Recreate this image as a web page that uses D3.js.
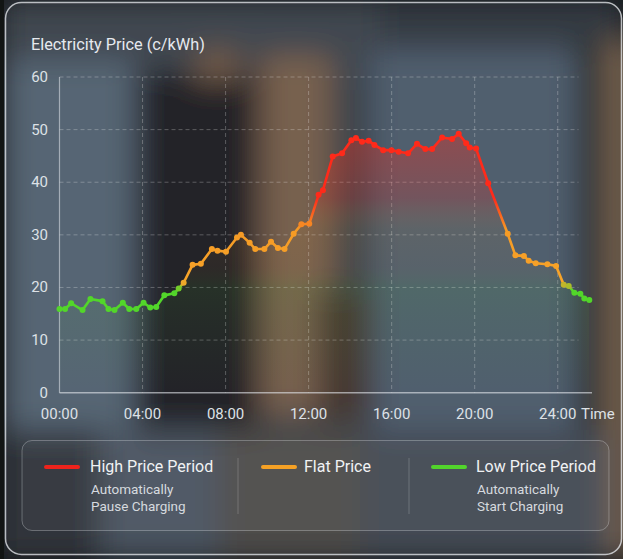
<!DOCTYPE html>
<html>
<head>
<meta charset="utf-8">
<script src="https://cdn.jsdelivr.net/npm/d3@7"></script>
<style>
  html, body { margin: 0; padding: 0; background: #15181b; overflow: hidden; }
  svg { display: block; font-family: Roboto, "Noto Sans", sans-serif; }
</style>
</head>
<body>
<div id="chart"></div>
<script>
// time of each reading (hours since 00:00) and price in c/kWh
const hours = [0, 0.27, 0.56, 1.11, 1.49, 2.07, 2.36, 2.65, 3.05, 3.36,
  3.70, 4.05, 4.37, 4.66, 5.05, 5.53, 5.74, 5.98, 6.41, 6.81,
  7.34, 7.61, 8.02, 8.55, 8.74, 9.16, 9.43, 9.87, 10.19, 10.52,
  10.84, 11.28, 11.65, 12.03, 12.48, 12.69, 13.16, 13.61, 14.06, 14.28,
  14.57, 14.89, 15.17, 15.59, 15.99, 16.34, 16.79, 17.22, 17.62, 17.95,
  18.43, 18.91, 19.23, 19.59, 19.76, 20.07, 20.65, 21.59, 21.96, 22.37,
  22.60, 22.94, 23.50, 23.92, 24.29, 24.53, 24.80, 25.09, 25.28, 25.52];
const prices = [15.9, 15.9, 17.0, 15.7, 17.8, 17.4, 15.9, 15.7, 17.1, 15.9,
  15.9, 17.1, 16.2, 16.3, 18.5, 18.9, 19.8, 20.9, 24.3, 24.5,
  27.3, 27.0, 26.8, 29.5, 30.0, 28.5, 27.3, 27.3, 28.7, 27.5,
  27.3, 30.2, 32.0, 32.1, 37.6, 38.5, 44.9, 45.5, 48.0, 48.4,
  47.7, 47.9, 47.1, 46.1, 46.1, 45.8, 45.5, 47.3, 46.3, 46.3,
  48.5, 48.2, 49.2, 47.4, 46.6, 46.4, 39.8, 30.2, 26.1, 26.0,
  25.1, 24.6, 24.4, 24.1, 20.5, 20.3, 19.0, 18.8, 17.9, 17.6];

const xTicks = [0, 4, 8, 12, 16, 20, 24];
const xTickLabels = ['00:00', '04:00', '08:00', '12:00', '16:00', '20:00', '24:00'];
const yTicks = [0, 10, 20, 30, 40, 50, 60];

const legendNames = ['High Price Period', 'Flat Price', 'Low Price Period'];
const legendNotes = [['Automatically', 'Pause Charging'], [], ['Automatically', 'Start Charging']];
const legendColors = ['#ee231c', '#f5a125', '#52d42c'];

// price bands used to colour the line: green -> orange -> red
const bandValues = [19.5, 21, 31, 37];
const bandColors = ['#52d62a', '#f8a52a', '#f59a25', '#ff2a1a'];

const W = 623, H = 559;

const svg = d3.select('#chart').append('svg')
    .attr('width', W)
    .attr('height', H);

const defs = svg.append('defs');

// blurred backdrop (stand-in for the photo behind the glass card)
const blur = defs.append('filter').attr('id', 'blur')
    .attr('x', '-20%').attr('y', '-20%').attr('width', '140%').attr('height', '140%');
blur.append('feGaussianBlur').attr('stdDeviation', 15);

const backdrop = [
  [0, 0, 623, 559, '#353c44'],
  [5, 0, 618, 80, '#3a424b'],
  [380, 0, 243, 60, '#2f353c'],
  [5, 60, 130, 380, '#51606f'],
  [135, 70, 125, 360, '#1a1d20'],
  [195, 50, 45, 30, '#6e5642'],
  [260, 55, 72, 360, '#735c4a'],
  [318, 290, 55, 130, '#40322b'],
  [372, 50, 205, 380, '#4c5a6a'],
  [577, 40, 28, 400, '#232527'],
  [606, 40, 30, 520, '#76604c'],
  [5, 430, 100, 130, '#2a2f34'],
  [100, 430, 120, 130, '#45505b'],
  [220, 430, 140, 130, '#4a4744'],
  [360, 430, 250, 130, '#3c4550']
];

svg.append('g').attr('filter', 'url(#blur)')
  .selectAll('rect')
  .data(backdrop)
  .join('rect')
    .attr('x', d => d[0]).attr('y', d => d[1])
    .attr('width', d => d[2]).attr('height', d => d[3])
    .attr('fill', d => d[4]);

svg.append('rect')
    .attr('x', 0).attr('y', 0).attr('width', 4).attr('height', H)
    .attr('fill', '#121514');

// glass card
svg.append('rect')
    .attr('x', 5.5).attr('y', 2.5)
    .attr('width', 616).attr('height', 552)
    .attr('rx', 16)
    .attr('fill', 'rgba(255,255,255,0.03)')
    .attr('stroke', 'rgba(235,238,242,0.75)')
    .attr('stroke-width', 1.5);

// scales
const x = d3.scaleLinear().domain([0, 25]).range([59.5, 578.5]);
const y = d3.scaleLinear().domain([0, 60]).range([392.7, 77]);

const grid = svg.append('g').attr('stroke', 'rgba(255,255,255,0.26)')
    .attr('stroke-width', 1).attr('stroke-dasharray', '4,3');

grid.selectAll('.hgrid')
  .data(yTicks.slice(1))
  .join('line')
    .attr('class', 'hgrid')
    .attr('x1', x(0)).attr('x2', x(25))
    .attr('y1', d => y(d)).attr('y2', d => y(d));

grid.selectAll('.vgrid')
  .data(xTicks.slice(1))
  .join('line')
    .attr('class', 'vgrid')
    .attr('x1', d => x(d)).attr('x2', d => x(d))
    .attr('y1', y(60)).attr('y2', y(0));

// axis lines
svg.append('line')
    .attr('x1', x(0)).attr('x2', x(0))
    .attr('y1', y(60)).attr('y2', y(0))
    .attr('stroke', 'rgba(230,233,238,0.55)').attr('stroke-width', 1.2);
svg.append('line')
    .attr('x1', x(0)).attr('x2', x(25.65))
    .attr('y1', y(0)).attr('y2', y(0))
    .attr('stroke', 'rgba(230,233,238,0.6)').attr('stroke-width', 1.5);

// tick labels
svg.append('g')
  .selectAll('text')
  .data(yTicks)
  .join('text')
    .attr('x', 48)
    .attr('y', d => y(d) + 5)
    .attr('text-anchor', 'end')
    .attr('font-size', 15)
    .attr('fill', '#dde1e6')
    .text(d => d);

svg.append('g')
  .selectAll('text')
  .data(xTicks)
  .join('text')
    .attr('x', d => x(d))
    .attr('y', 419)
    .attr('text-anchor', 'middle')
    .attr('font-size', 15)
    .attr('fill', '#dde1e6')
    .text((d, i) => xTickLabels[i]);

svg.append('text')
    .attr('x', 581).attr('y', 419)
    .attr('font-size', 15)
    .attr('fill', '#dde1e6')
    .text('Time');

svg.append('text')
    .attr('x', 31).attr('y', 50)
    .attr('font-size', 16.3)
    .attr('fill', '#e6e9ee')
    .text('Electricity Price (c/kWh)');

// gradients keyed on price
const toOffset = v => v / 60;

const lineGrad = defs.append('linearGradient').attr('id', 'lineGrad')
    .attr('gradientUnits', 'userSpaceOnUse')
    .attr('x1', 0).attr('x2', 0)
    .attr('y1', y(0)).attr('y2', y(60));
lineGrad.selectAll('stop')
  .data(bandValues)
  .join('stop')
    .attr('offset', d => toOffset(d))
    .attr('stop-color', (d, i) => bandColors[i]);

const areaStops = [
  [0, '#52d62a', 0.0],
  [14, '#52d62a', 0.05],
  [20, '#52d62a', 0.08],
  [24, '#f8a52a', 0.05],
  [31, '#f59a25', 0.08],
  [37, '#ff2a1a', 0.2],
  [48, '#ff2a1a', 0.34]
];
const areaGrad = defs.append('linearGradient').attr('id', 'areaGrad')
    .attr('gradientUnits', 'userSpaceOnUse')
    .attr('x1', 0).attr('x2', 0)
    .attr('y1', y(0)).attr('y2', y(60));
areaGrad.selectAll('stop')
  .data(areaStops)
  .join('stop')
    .attr('offset', d => toOffset(d[0]))
    .attr('stop-color', d => d[1])
    .attr('stop-opacity', d => d[2]);

const points = hours.map((h, i) => [h, prices[i]]);

const area = d3.area()
    .x(d => x(d[0]))
    .y0(y(0))
    .y1(d => y(d[1]));

const line = d3.line()
    .x(d => x(d[0]))
    .y(d => y(d[1]));

svg.append('path')
    .datum(points)
    .attr('d', area)
    .attr('fill', 'url(#areaGrad)');

svg.append('path')
    .datum(points)
    .attr('d', line)
    .attr('fill', 'none')
    .attr('stroke', 'url(#lineGrad)')
    .attr('stroke-width', 2.6)
    .attr('stroke-linejoin', 'round');

const pointColor = d3.scaleLinear()
    .domain(bandValues)
    .range(bandColors)
    .clamp(true);

svg.append('g')
  .selectAll('circle')
  .data(points)
  .join('circle')
    .attr('cx', d => x(d[0]))
    .attr('cy', d => y(d[1]))
    .attr('r', 3)
    .attr('fill', d => pointColor(d[1]));

// legend panel
svg.append('rect')
    .attr('x', 22).attr('y', 440.5)
    .attr('width', 587).attr('height', 90)
    .attr('rx', 10)
    .attr('fill', 'rgba(255,255,255,0.04)')
    .attr('stroke', 'rgba(235,238,242,0.3)')
    .attr('stroke-width', 1);

const legendLineX = [46, 263, 433];
const legendTextX = [90, 304, 476];
const dividerX = [238, 409];

svg.append('g')
  .selectAll('line')
  .data(dividerX)
  .join('line')
    .attr('x1', d => d).attr('x2', d => d)
    .attr('y1', 458).attr('y2', 514)
    .attr('stroke', 'rgba(235,238,242,0.22)')
    .attr('stroke-width', 1);

const legend = svg.append('g')
  .selectAll('g')
  .data(legendNames)
  .join('g');

legend.append('line')
    .attr('x1', (d, i) => legendLineX[i])
    .attr('x2', (d, i) => legendLineX[i] + 32)
    .attr('y1', 467).attr('y2', 467)
    .attr('stroke', (d, i) => legendColors[i])
    .attr('stroke-width', 4)
    .attr('stroke-linecap', 'round');

legend.append('text')
    .attr('x', (d, i) => legendTextX[i])
    .attr('y', 472)
    .attr('font-size', 16)
    .attr('fill', '#f0f2f4')
    .text(d => d);

legend.each(function (d, i) {
  d3.select(this).selectAll('.note')
    .data(legendNotes[i])
    .join('text')
      .attr('class', 'note')
      .attr('x', legendTextX[i] + 1)
      .attr('y', (n, j) => 494 + j * 17)
      .attr('font-size', 13.5)
      .attr('fill', '#d6dadf')
      .text(n => n);
});
</script>
</body>
</html>
